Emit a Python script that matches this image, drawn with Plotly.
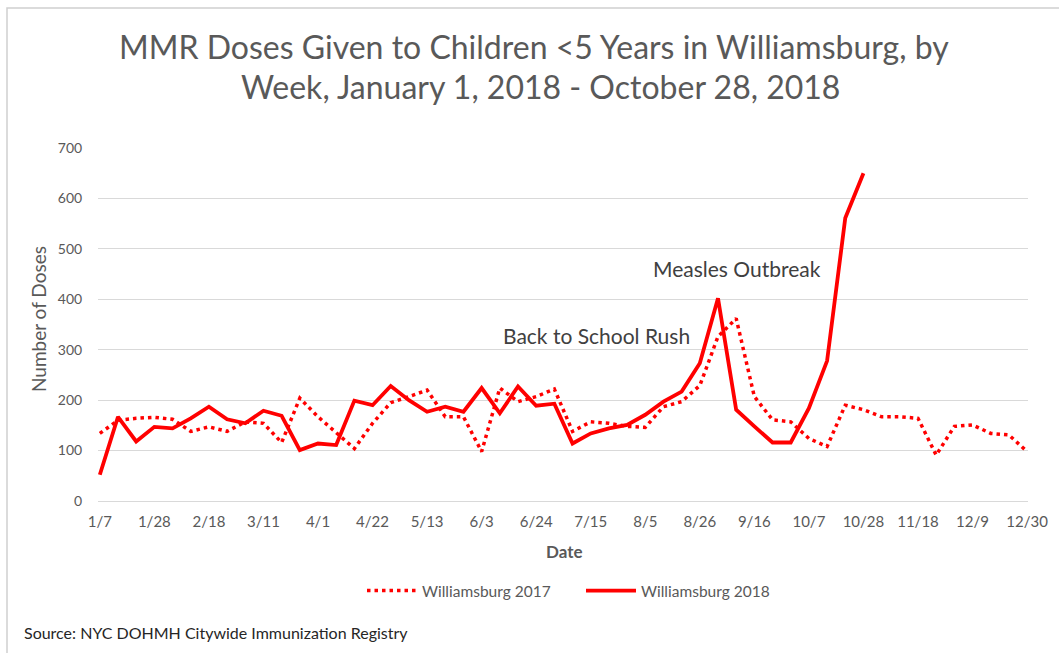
import plotly.graph_objects as go

weeks = ["1/7","1/14","1/21","1/28","2/4","2/11","2/18","2/25","3/4","3/11","3/18","3/25",
         "4/1","4/8","4/15","4/22","4/29","5/6","5/13","5/20","5/27","6/3","6/10","6/17",
         "6/24","7/1","7/8","7/15","7/22","7/29","8/5","8/12","8/19","8/26","9/2","9/9",
         "9/16","9/23","9/30","10/7","10/14","10/21","10/28","11/4","11/11","11/18","11/25",
         "12/2","12/9","12/16","12/23","12/30"]

williamsburg_2017 = [134, 160, 164, 166, 162, 138, 147, 138, 157, 154, 116, 204, 167, 135, 104, 154,
                     195, 207, 220, 167, 167, 98, 224, 197, 207, 222, 138, 157, 154, 148, 146, 187,
                     197, 229, 326, 362, 207, 161, 157, 124, 108, 190, 181, 167, 167, 164, 91, 148,
                     151, 134, 131, 98]

williamsburg_2018 = [52, 167, 118, 147, 144, 164, 187, 162, 154, 179, 169, 101, 114, 111, 199, 190,
                     228, 200, 177, 187, 177, 224, 174, 227, 189, 193, 114, 134, 144, 151, 171, 197,
                     217, 273, 402, 181, 148, 116, 116, 184, 278, 561, 650]

tick_labels = weeks[::3]
tick_idx = list(range(0, len(weeks), 3))

FONT = "Lato, 'Open Sans', sans-serif"
GRAY = "#595959"

fig = go.Figure()
fig.add_trace(go.Scatter(
    x=list(range(len(williamsburg_2017))), y=williamsburg_2017, mode="lines",
    name="Williamsburg 2017",
    line=dict(color="#FF0000", width=3.5, dash="3.5px,4px")))
fig.add_trace(go.Scatter(
    x=list(range(len(williamsburg_2018))), y=williamsburg_2018, mode="lines",
    name="Williamsburg 2018",
    line=dict(color="#FF0000", width=3.8)))

L, R, T, B = 98, 1028, 148, 501
W, H = 1059, 653
pw, ph = R - L, B - T

def px(x):
    return (x - L) / pw

def py(y):
    return (B - y) / ph

fig.update_layout(
    width=W, height=H,
    margin=dict(l=L, r=W - R, t=T, b=H - B, pad=0),
    paper_bgcolor="white", plot_bgcolor="white",
    font=dict(family=FONT, color=GRAY),
    showlegend=True,
    legend=dict(orientation="h", x=px(362), xanchor="left", y=py(591), yanchor="middle",
                font=dict(size=15.5, color=GRAY), itemwidth=50, entrywidth=154,
                entrywidthmode="pixels", tracegroupgap=0, bgcolor="rgba(0,0,0,0)"),
    xaxis=dict(range=[-0.1, 51.05], tickmode="array", tickvals=tick_idx, ticktext=tick_labels,
               showgrid=False, zeroline=False, showline=False,
               ticks="outside", ticklen=7, tickcolor="rgba(0,0,0,0)",
               tickfont=dict(size=15, color=GRAY, family=FONT)),
    yaxis=dict(range=[0, 700], dtick=100, showgrid=True, gridcolor="#d9d9d9", gridwidth=1,
               zeroline=True, zerolinecolor="#d9d9d9", zerolinewidth=1, showline=False,
               ticks="outside", ticklen=12, tickcolor="rgba(0,0,0,0)",
               tickfont=dict(size=14, color=GRAY, family=FONT)),
)

annotations = [
    dict(text="MMR Doses Given to Children <5 Years in Williamsburg, by", x=px(534), y=py(46),
         font=dict(size=32, color=GRAY)),
    dict(text="Week, January 1, 2018 - October 28, 2018", x=px(540), y=py(87),
         font=dict(size=32, color=GRAY)),
    dict(text="Measles Outbreak", x=px(737), y=py(268), font=dict(size=21, color="#404040")),
    dict(text="Back to School Rush", x=px(596), y=py(335), font=dict(size=21, color="#404040")),
    dict(text="<b>Date</b>", x=px(564), y=py(551), font=dict(size=17, color=GRAY)),
    dict(text="Number of Doses", x=px(38), y=py(319), textangle=-90, font=dict(size=19, color=GRAY)),
]
for a in annotations:
    fig.add_annotation(xref="paper", yref="paper", showarrow=False, xanchor="center",
                       yanchor="middle", **a)
fig.add_annotation(text="Source: NYC DOHMH Citywide Immunization Registry", xref="paper", yref="paper",
                   x=px(22), y=py(632), xanchor="left", yanchor="middle", showarrow=False,
                   font=dict(size=16, color="#262626", family=FONT))

fig.add_shape(type="rect", xref="paper", yref="paper", x0=px(7), y0=py(8), x1=px(1200), y1=py(800),
              line=dict(color="#d0d0d0", width=1.5), fillcolor="rgba(0,0,0,0)", layer="below")

fig.write_html("out.html")
